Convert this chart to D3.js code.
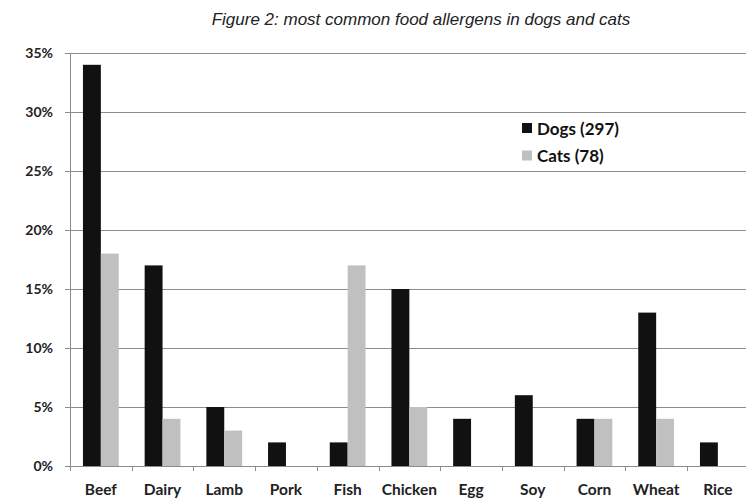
<!DOCTYPE html>
<html>
<head>
<meta charset="utf-8">
<script src="https://cdn.jsdelivr.net/npm/d3@7"></script>
<style>
	body { margin: 0; background: #fff; }
	svg { display: block; }
	.tick-label { font-family: Lato, "Open Sans", sans-serif; font-weight: bold; font-size: 14px; fill: #222; }
	.cat-label { font-family: Lato, "Open Sans", sans-serif; font-weight: bold; font-size: 15.5px; fill: #222; }
	.legend-label { font-family: Lato, "Open Sans", sans-serif; font-weight: bold; font-size: 17px; fill: #111; }
	.title { font-family: "Liberation Sans", Arial, sans-serif; font-style: italic; font-size: 17px; fill: #222; }
</style>
</head>
<body>
<div id="chart"></div>
<script>
// values, in percent
var categories = ["Beef", "Dairy", "Lamb", "Pork", "Fish", "Chicken", "Egg", "Soy", "Corn", "Wheat", "Rice"];
var dogs = [34, 17, 5, 2, 2, 15, 4, 6, 4, 13, 2];
var cats = [18, 4, 3, 0, 17, 5, 0, 0, 4, 4, 0];
var seriesNames = ["Dogs (297)", "Cats (78)"];
var seriesColors = ["#111111", "#c0c0c0"];
var yTicks = [0, 5, 10, 15, 20, 25, 30, 35];

(function() {
	'use strict';

	var W = 746, H = 498,
		left = 70, right = 748.7, top = 53, bottom = 466,
		series = [dogs, cats];

	var svg = d3.select("#chart").append("svg")
		.attr("width", W)
		.attr("height", H);

	var x = d3.scaleBand()
			.domain(categories)
			.range([left, right])
			.paddingInner(0.42)
			.paddingOuter(0.21),
		x1 = d3.scaleBand()
			.domain([0, 1])
			.range([0, x.bandwidth()]),
		y = d3.scaleLinear()
			.domain([0, 35])
			.range([bottom, top]);

	svg.append("text")
		.attr("class", "title")
		.attr("x", 421)
		.attr("y", 25)
		.attr("text-anchor", "middle")
		.text("Figure 2: most common food allergens in dogs and cats");

	// gridlines + y ticks
	var grid = svg.append("g");
	grid.selectAll("line.grid")
		.data(yTicks)
		.join("line")
		.attr("class", "grid")
		.attr("x1", left - 5)
		.attr("x2", W)
		.attr("y1", function(d) { return Math.round(y(d)) + 0.5; })
		.attr("y2", function(d) { return Math.round(y(d)) + 0.5; })
		.attr("stroke", "#8c8c8c")
		.attr("stroke-width", 1);

	grid.selectAll("text")
		.data(yTicks)
		.join("text")
		.attr("class", "tick-label")
		.attr("x", 53)
		.attr("y", function(d) { return y(d) + 5; })
		.attr("text-anchor", "end")
		.text(function(d) { return d + "%"; });

	// y axis line
	svg.append("line")
		.attr("x1", left + 0.5).attr("x2", left + 0.5)
		.attr("y1", y(35)).attr("y2", bottom + 5)
		.attr("stroke", "#8c8c8c");

	// category ticks below baseline
	var step = x.step();
	svg.append("g")
		.selectAll("line")
		.data(categories)
		.join("line")
		.attr("x1", function(d) { return Math.round(x(d) - step * 0.21) + 0.5; })
		.attr("x2", function(d) { return Math.round(x(d) - step * 0.21) + 0.5; })
		.attr("y1", bottom)
		.attr("y2", bottom + 5)
		.attr("stroke", "#8c8c8c");

	// bars
	var groups = svg.append("g")
		.selectAll("g")
		.data(categories)
		.join("g")
		.attr("transform", function(d) { return "translate(" + x(d) + ",0)"; });

	groups.selectAll("rect")
		.data(function(d, i) { return series.map(function(s, k) { return { k: k, v: s[i] }; }); })
		.join("rect")
		.attr("x", function(d) { return x1(d.k); })
		.attr("width", x1.bandwidth())
		.attr("y", function(d) { return y(d.v); })
		.attr("height", function(d) { return bottom - y(d.v); })
		.attr("fill", function(d) { return seriesColors[d.k]; });

	svg.append("g")
		.selectAll("text")
		.data(categories)
		.join("text")
		.attr("class", "cat-label")
		.attr("x", function(d) { return x(d) + x.bandwidth() / 2; })
		.attr("y", 495)
		.attr("text-anchor", "middle")
		.text(function(d) { return d; });

	// legend
	var legend = svg.append("g")
		.attr("transform", "translate(522,123)");
	var item = legend.selectAll("g")
		.data(seriesNames)
		.join("g")
		.attr("transform", function(d, i) { return "translate(0," + i * 27.5 + ")"; });
	item.append("rect")
		.attr("width", 10)
		.attr("height", 10)
		.attr("fill", function(d, i) { return seriesColors[i]; });
	item.append("text")
		.attr("class", "legend-label")
		.attr("x", 15)
		.attr("y", 11.5)
		.text(function(d) { return d; });
})();
</script>
</body>
</html>
